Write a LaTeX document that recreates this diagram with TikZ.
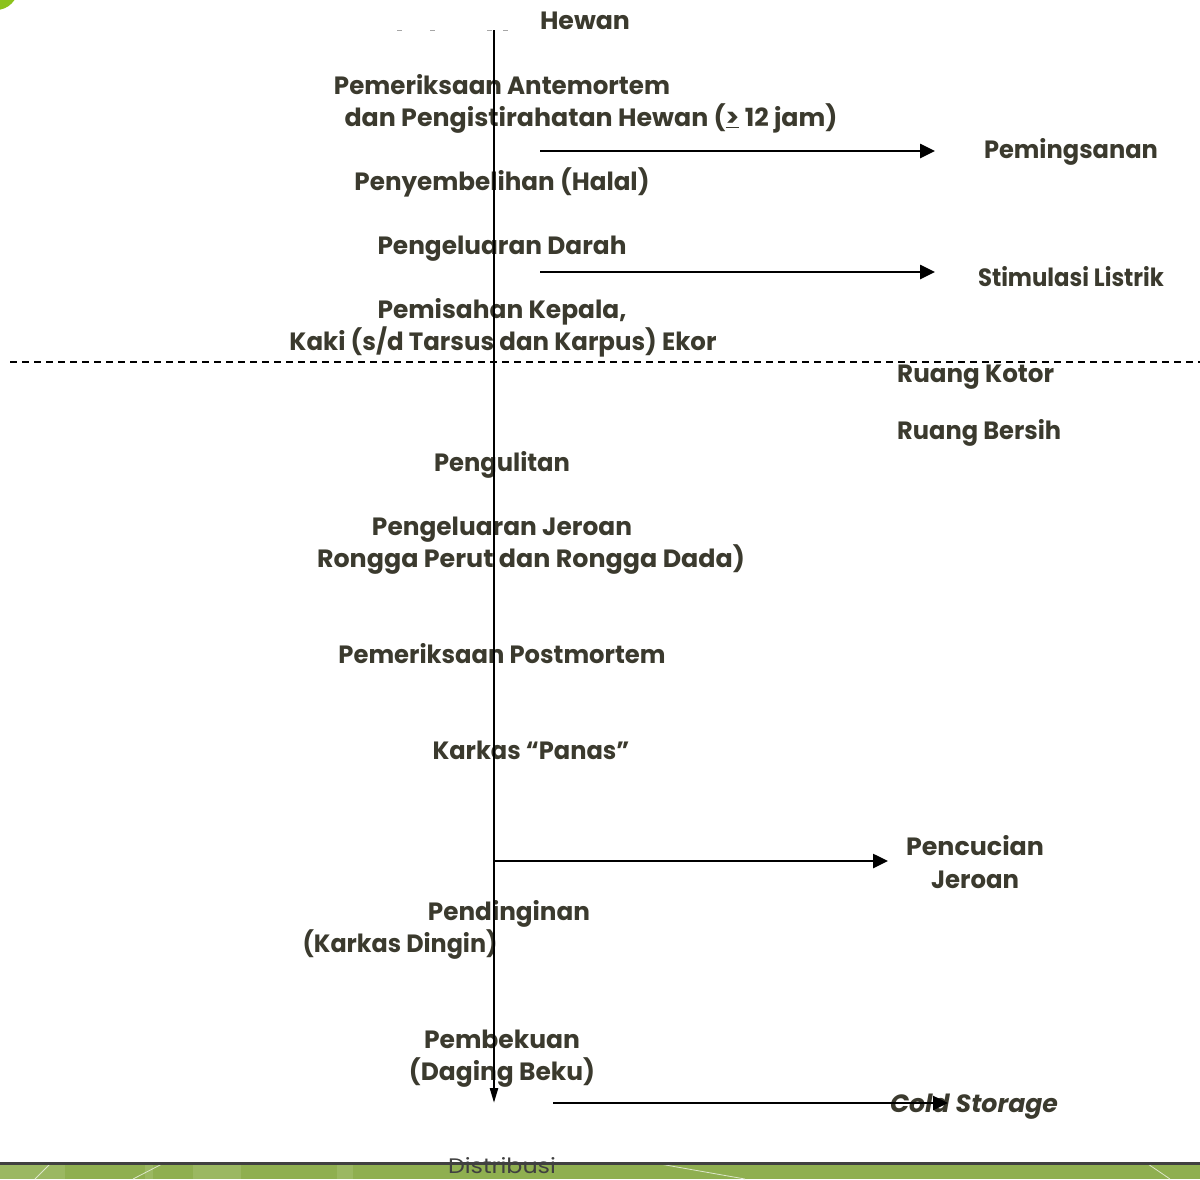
\documentclass[tikz,border=0pt]{standalone}
\usepackage{fontspec}
\usepackage{graphicx}
\setmainfont{Poppins}
\usetikzlibrary{arrows.meta}
\definecolor{txt}{HTML}{3B3A2E}
\definecolor{bandgreen}{HTML}{8FAF50}
\definecolor{bandlight}{HTML}{9BB862}
\definecolor{dotgreen}{HTML}{8CC21C}
\newcommand{\fitw}[2]{\resizebox{#1pt}{\height}{#2}}
\tikzset{
  lbl/.style={anchor=base, inner sep=0pt, text=txt, font=\fontsize{25}{30}\selectfont\bfseries},
  flow/.style={line width=2.6pt, -{Triangle[length=15pt,width=14pt]}},
  mainflow/.style={line width=2.4pt, -{Triangle[length=15pt,width=8pt]}},
  zone/.style={line width=1.6pt, dash pattern=on 7pt off 5pt}
}
\begin{document}
\begin{tikzpicture}[x=1pt,y=-1pt]
\useasboundingbox (0,0) rectangle (1200,1179);
% corner dot
\fill[dotgreen] (-4,-12) circle (22);
% bottom band
\fill[bandgreen] (0,1164) rectangle (1200,1179);
\fill[bandlight] (0,1164) rectangle (65,1179);
\fill[bandlight] (145,1164) rectangle (153,1179);
\fill[bandlight] (193,1164) rectangle (241,1179);
\fill[bandlight] (337,1164) rectangle (353,1179);
\draw[white!70!bandgreen, line width=0.8pt] (35,1179) -- (50,1164);
\draw[white!70!bandgreen, line width=0.8pt] (133,1179) -- (162,1164);
\draw[white!70!bandgreen, line width=0.8pt] (660,1164) -- (745,1179);
\draw[white!70!bandgreen, line width=0.8pt] (1148,1164) -- (1170,1179);
\fill[black!75] (0,1162) rectangle (1200,1164.5);
% faint top dashes
\foreach \a in {397,430,487,503} \draw[black!35, line width=0.8pt] (\a,30) -- ++(5,0);
% coordinates
\coordinate (top) at (494,30);
\coordinate (bottom) at (494,1103);
\coordinate (a1s) at (540,151); \coordinate (a1e) at (935,151);
\coordinate (a2s) at (540,272); \coordinate (a2e) at (935,272);
\coordinate (a3s) at (494,861); \coordinate (a3e) at (888,861);
\coordinate (a4s) at (553,1103); \coordinate (a4e) at (948,1103);
\coordinate (zl) at (10,362); \coordinate (zr) at (1200,362);
% zone line
\draw[zone] (zl) -- (zr);
% labels
\node[lbl] (hewan) at (585,29) {\fitw{90}{Hewan}};
\node[lbl] (ante1) at (502,94) {\fitw{336}{Pemeriksaan Antemortem}};
\node[lbl] (ante2) at (591,126) {\fitw{493}{dan Pengistirahatan Hewan (\underline{>} 12 jam)}};
\node[lbl] (sembelih) at (502,190) {\fitw{295}{Penyembelihan (Halal)}};
\node[lbl] (darah) at (502,254) {\fitw{249}{Pengeluaran Darah}};
\node[lbl] (pisah1) at (502,318) {\fitw{249}{Pemisahan Kepala,}};
\node[lbl] (pisah2) at (503,350) {\fitw{427}{Kaki (s/d Tarsus dan Karpus) Ekor}};
\node[lbl, anchor=base west] (kotor) at (897,382) {\fitw{157}{Ruang Kotor}};
\node[lbl, anchor=base west] (bersih) at (897,439) {\fitw{164}{Ruang Bersih}};
\node[lbl] (kulit) at (502,471) {\fitw{136}{Pengulitan}};
\node[lbl] (jeroan1) at (502,535) {\fitw{260}{Pengeluaran Jeroan}};
\node[lbl] (jeroan2) at (531,567) {\fitw{428}{Rongga Perut dan Rongga Dada)}};
\node[lbl] (postm) at (502,663) {\fitw{327}{Pemeriksaan Postmortem}};
\node[lbl] (panas) at (531,759) {\fitw{197}{Karkas \textquotedblleft Panas\textquotedblright}};
\node[lbl] (pingsan) at (1071,158) {\fitw{174}{Pemingsanan}};
\node[lbl] (listrik) at (1071,286) {\fitw{186}{Stimulasi Listrik}};
\node[lbl] (cuci1) at (975,855) {\fitw{138}{Pencucian}};
\node[lbl] (cuci2) at (975,888) {\fitw{88}{Jeroan}};
\node[lbl] (dingin1) at (509,920) {\fitw{162}{Pendinginan}};
\node[lbl] (dingin2) at (400,952) {\fitw{195}{(Karkas Dingin)}};
\node[lbl] (beku1) at (502,1048) {\fitw{156}{Pembekuan}};
\node[lbl] (beku2) at (502,1080) {\fitw{186}{(Daging Beku)}};
\node[lbl, font=\fontsize{25}{30}\selectfont\bfseries\itshape] (cold) at (974,1112) {\fitw{168}{Cold Storage}};
\node[anchor=base, inner sep=0pt, text=black!75, font=\fontsize{21}{26}\selectfont] (distr) at (502,1173.5) {\fitw{108}{Distribusi}};
% flow lines
\draw[mainflow] (top) -- (bottom);
\draw[flow] (a1s) -- (a1e);
\draw[flow] (a2s) -- (a2e);
\draw[flow] (a3s) -- (a3e);
\draw[flow] (a4s) -- (a4e);
\end{tikzpicture}
\end{document}
